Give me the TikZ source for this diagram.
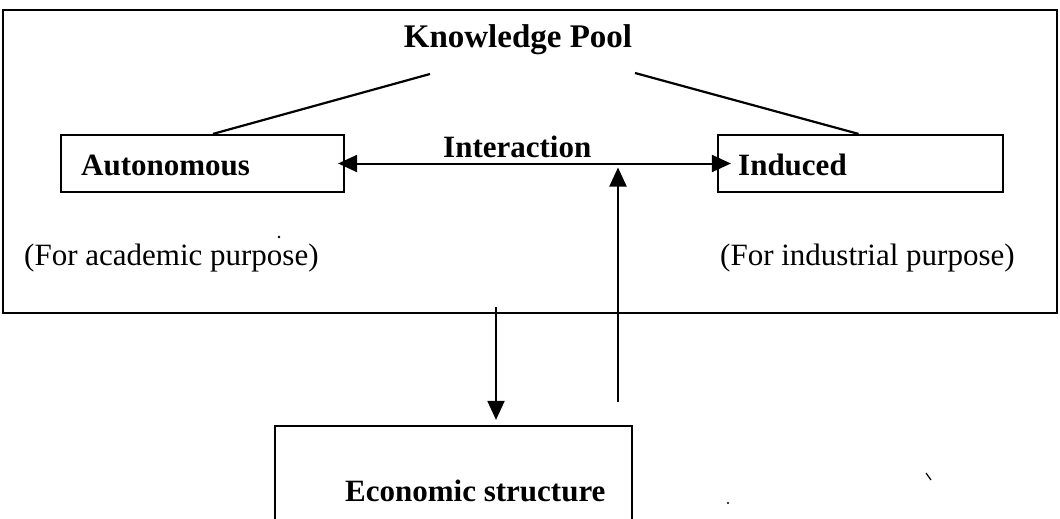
\documentclass[tikz,border=0pt]{standalone}
\usepackage{fontspec}
\setmainfont{Liberation Serif}
\usetikzlibrary{arrows.meta}
\begin{document}
\begin{tikzpicture}[x=1pt,y=-1pt,
  boxline/.style={draw, line width=2.2pt, inner sep=0pt},
  txt/.style={inner sep=0pt, font=\fontsize{31}{37}\selectfont},
  btxt/.style={inner sep=0pt, font=\fontsize{31}{37}\selectfont\bfseries},
  conn/.style={line width=2.2pt},
  tip/.style={line width=2pt, -{Triangle[length=19pt,width=17pt]}},
  dtip/.style={line width=2pt, {Triangle[length=19pt,width=17pt]}-{Triangle[length=19pt,width=17pt]}}
]
\clip (0,0) rectangle (1060,519);
\fill[white] (0,0) rectangle (1060,519);
% outer box
\node[boxline, minimum width=1054pt, minimum height=303pt] (pool) at (530,161.5) {};
% titles and texts
\node[btxt, font=\fontsize{33}{39}\selectfont\bfseries, anchor=base] (kp) at (518,48) {Knowledge Pool};
\node[boxline, minimum width=283pt, minimum height=57pt] (auto) at (202.5,163.5) {};
\node[boxline, minimum width=285pt, minimum height=57pt] (ind) at (860.5,163.5) {};
\node[btxt, anchor=base west] (autot) at (81,175) {Autonomous};
\node[btxt, anchor=base west] (indt) at (738,175) {Induced};
\node[btxt, anchor=base west] (inter) at (443,157) {Interaction};
\node[txt, anchor=base west] (acad) at (24,265) {(For academic purpose)};
\node[txt, anchor=base west] (indu) at (720,265) {(For industrial purpose)};
% economic structure box
\node[boxline, minimum width=357pt, minimum height=140pt] (econ) at (453.5,496) {};
\node[btxt, anchor=base west] (econt) at (345,501) {Economic structure};
% connectors
\draw[conn] ([shift={(-88,26)}]kp.base) -- ([xshift=10.5pt]auto.north);
\draw[conn] ([shift={(117,25)}]kp.base) -- ([xshift=-2pt]ind.north);
\draw[dtip] ([xshift=-7pt]auto.east) -- ([xshift=14pt]ind.west);
\coordinate (upstart) at (618,402);
\draw[tip, shorten >=4pt] (upstart) -- (upstart |- auto.east);
\coordinate (dstart) at (496,307);
\draw[tip, shorten >=5pt] (dstart) -- (dstart |- econ.north);
% scan specks
\fill (279,237) circle (1.3);
\draw[line width=1.2pt] (926,473) -- (931,480);
\fill (728,503) circle (1.2);
\end{tikzpicture}
\end{document}
